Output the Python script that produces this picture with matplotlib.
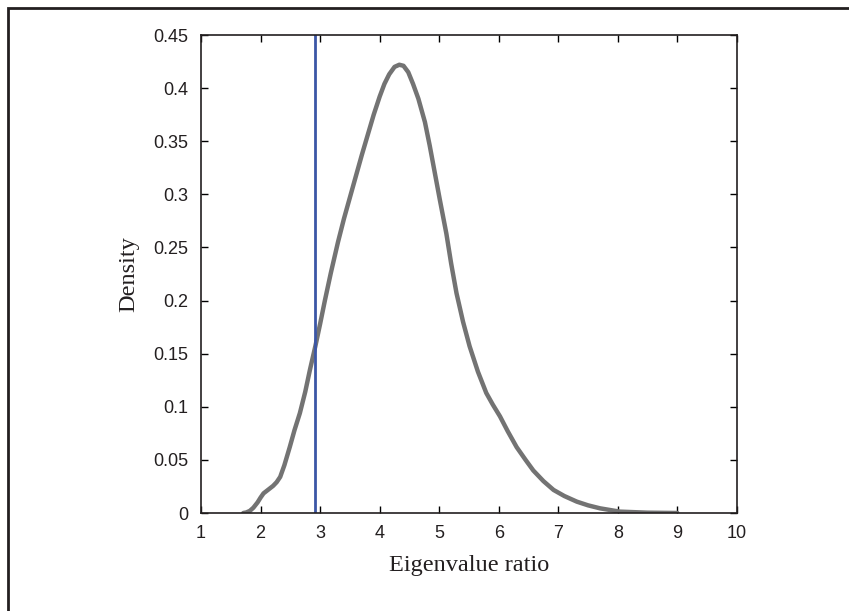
import matplotlib
matplotlib.use("Agg")
import matplotlib.pyplot as plt
from matplotlib.patches import Rectangle

# density curve
ratio = [1.71, 1.76, 1.82, 1.88, 1.95, 2.0, 2.05, 2.13, 2.21, 2.27, 2.33, 2.4,
         2.49, 2.57, 2.66, 2.75, 2.83, 2.92, 3.0, 3.08, 3.18, 3.3, 3.4, 3.5,
         3.6, 3.7, 3.8, 3.9, 4.0, 4.08, 4.16, 4.25, 4.33, 4.4, 4.48, 4.56,
         4.65, 4.76, 4.84, 4.92, 5.01, 5.12, 5.2, 5.29, 5.4, 5.51, 5.65, 5.79,
         5.9, 6.02, 6.15, 6.3, 6.45, 6.58, 6.75, 6.92, 7.1, 7.31, 7.5, 7.7,
         8.03, 8.5, 9.0]
density = [0.0, 0.0005, 0.002, 0.005, 0.010, 0.0145, 0.0185, 0.022, 0.0255,
           0.029, 0.034, 0.045, 0.062, 0.078, 0.094, 0.114, 0.135, 0.157,
           0.178, 0.2, 0.226, 0.255, 0.277, 0.297, 0.317, 0.337, 0.356, 0.375,
           0.392, 0.404, 0.413, 0.420, 0.422, 0.421, 0.415, 0.404, 0.390,
           0.368, 0.346, 0.322, 0.295, 0.263, 0.235, 0.207, 0.18, 0.157, 0.133,
           0.113, 0.102, 0.091, 0.077, 0.062, 0.05, 0.04, 0.03, 0.0217, 0.016,
           0.0107, 0.0072, 0.0044, 0.0013, 0.0003, 0.0]
observed = 2.91

xticks = list(range(1, 11))
yticks = [0, 0.05, 0.1, 0.15, 0.2, 0.25, 0.3, 0.35, 0.4, 0.45]
ytick_labels = ["0", "0.05", "0.1", "0.15", "0.2", "0.25", "0.3", "0.35", "0.4", "0.45"]

fig = plt.figure(figsize=(8.49, 6.11), dpi=100)
ax = fig.add_axes([201/849, 98/611, 536/849, 478/611])

# outer frame (only top/left edges fall inside the image)
fig.patches.append(Rectangle((7.5/849, -0.2), 1.2, 1.2 - 7.5/611,
                             transform=fig.transFigure, fill=False,
                             edgecolor="#231f20", linewidth=2.0))

ax.plot(ratio, density, color="#737373", linewidth=3.2,
        solid_capstyle="round", solid_joinstyle="round")
ax.axvline(observed, color="#3b56a6", linewidth=2.0)

ax.set_xlim(1, 10)
ax.set_ylim(0, 0.45)
ax.set_xticks(xticks)
ax.set_yticks(yticks)
ax.set_yticklabels(ytick_labels)
ax.tick_params(direction="in", top=True, right=True, length=5, width=1,
               labelsize=13, pad=9)
for lab in ax.get_xticklabels() + ax.get_yticklabels():
    lab.set_fontfamily("Liberation Sans")
    lab.set_color("#231f20")
for s in ax.spines.values():
    s.set_linewidth(1.2)
    s.set_color("#231f20")

ax.set_xlabel("Eigenvalue ratio", fontfamily="Liberation Serif", fontsize=17.5,
              labelpad=9, color="#231f20")
ax.set_ylabel("Density", fontfamily="Liberation Serif", fontsize=17.5,
              labelpad=10, color="#231f20")

fig.savefig("out.png", dpi=100)
